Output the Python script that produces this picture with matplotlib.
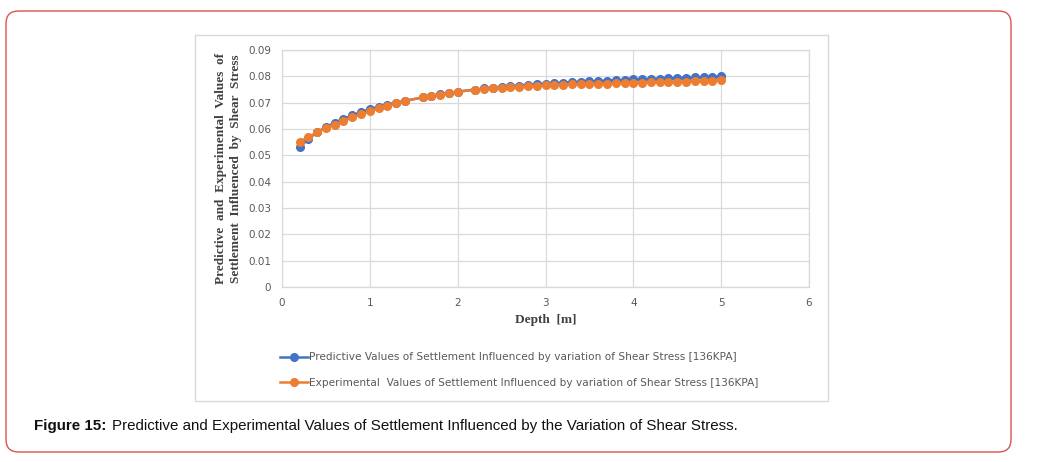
import matplotlib.pyplot as plt
from matplotlib.patches import FancyBboxPatch, Rectangle

# depth [m]
depth = [0.2, 0.3, 0.4, 0.5, 0.6, 0.7, 0.8, 0.9, 1.0, 1.1, 1.2, 1.3, 1.4,
         1.6, 1.7, 1.8, 1.9, 2.0,
         2.2, 2.3, 2.4, 2.5, 2.6, 2.7, 2.8, 2.9, 3.0, 3.1, 3.2, 3.3, 3.4, 3.5,
         3.6, 3.7, 3.8, 3.9, 4.0, 4.1, 4.2, 4.3, 4.4, 4.5, 4.6, 4.7, 4.8, 4.9, 5.0]

predictive = [0.0531, 0.0562, 0.0588, 0.0607, 0.0624, 0.0639, 0.0652, 0.0664, 0.0675,
              0.0684, 0.0693, 0.0700, 0.0707,
              0.0720, 0.0726, 0.0732, 0.0737, 0.0742,
              0.0750, 0.0754, 0.0757, 0.0760, 0.0763, 0.0765, 0.0768, 0.0770, 0.0772,
              0.0774, 0.0776, 0.0778, 0.0779, 0.0781, 0.0782, 0.0784, 0.0785, 0.0786,
              0.0788, 0.0789, 0.0790, 0.0791, 0.0792, 0.0794, 0.0795, 0.0796, 0.0797,
              0.0798, 0.0800]

experimental = [0.0551, 0.0570, 0.0587, 0.0603, 0.0617, 0.0631, 0.0644, 0.0656, 0.0667,
                0.0678, 0.0688, 0.0697, 0.0706,
                0.0720, 0.0726, 0.0731, 0.0736, 0.0741,
                0.0749, 0.0752, 0.0755, 0.0757, 0.0759, 0.0761, 0.0763, 0.0764, 0.0766,
                0.0767, 0.0768, 0.0769, 0.0770, 0.0771, 0.0772, 0.0772, 0.0773, 0.0774,
                0.0775, 0.0776, 0.0777, 0.0777, 0.0778, 0.0779, 0.0780, 0.0781, 0.0782,
                0.0784, 0.0786]

xticks = [0, 1, 2, 3, 4, 5, 6]
yticks = [0, 0.01, 0.02, 0.03, 0.04, 0.05, 0.06, 0.07, 0.08, 0.09]
ytick_labels = ['0', '0.01', '0.02', '0.03', '0.04', '0.05', '0.06', '0.07', '0.08', '0.09']

label_pred = 'Predictive Values of Settlement Influenced by variation of Shear Stress [136KPA]'
label_exp = 'Experimental  Values of Settlement Influenced by variation of Shear Stress [136KPA]'

W, H = 1042, 462
fig = plt.figure(figsize=(W / 100, H / 100), dpi=100)

# outer rounded frame
frame = FancyBboxPatch((6 / W, 10 / H), 1005 / W, 441 / H,
                       boxstyle='round,pad=0,rounding_size=0.012',
                       transform=fig.transFigure, fill=False,
                       edgecolor='#d9534f', linewidth=1.0, mutation_aspect=W / H)
fig.patches.append(frame)

# chart box
box = Rectangle((195 / W, 1 - 401 / H), 633 / W, 366 / H, transform=fig.transFigure,
                fill=False, edgecolor='#d9d9d9', linewidth=1.0)
fig.patches.append(box)

ax = fig.add_axes([282 / W, 1 - 287 / H, 527 / W, 237 / H])
ax.plot(depth, predictive, color='#4472c4', marker='o', markersize=5.5, linewidth=1.8,
        label=label_pred, zorder=3)
ax.plot(depth, experimental, color='#ed7d31', marker='o', markersize=5.5, linewidth=1.8,
        label=label_exp, zorder=4)

ax.set_xlim(0, 6)
ax.set_ylim(0, 0.09)
ax.set_xticks(xticks)
ax.set_yticks(yticks)
ax.set_yticklabels(ytick_labels)
ax.grid(True, color='#d9d9d9', linewidth=0.9)
ax.set_axisbelow(True)
for s in ax.spines.values():
    s.set_color('#d9d9d9')
    s.set_linewidth(0.9)
ax.tick_params(length=0, labelsize=7.5, colors='#595959', pad=8)
for lbl in ax.get_xticklabels() + ax.get_yticklabels():
    lbl.set_family('DejaVu Sans')

ax.set_xlabel('Depth  [m]', family='Liberation Serif', fontweight='bold',
              fontsize=9.5, color='#404040', labelpad=4)
ax.set_ylabel('Predictive  and  Experimental  Values  of\nSettlement  Influenced  by  Shear  Stress',
              family='Liberation Serif', fontweight='bold', fontsize=9.5,
              color='#404040', labelpad=4, linespacing=1.35)

leg = ax.legend(loc='upper left', bbox_to_anchor=(276 / W, 1 - 348 / H),
                bbox_transform=fig.transFigure, frameon=False, handlelength=2.6,
                handletextpad=0.15, labelspacing=1.45, borderaxespad=0,
                prop={'family': 'DejaVu Sans', 'size': 7.6})
for t in leg.get_texts():
    t.set_color('#595959')

fig.text(34 / W, 1 - 426 / H, 'Figure 15:', fontweight='bold', fontsize=10.9,
         family='Liberation Sans', va='center', color='#111111')
fig.text(112 / W, 1 - 426 / H,
         'Predictive and Experimental Values of Settlement Influenced by the Variation of Shear Stress.',
         fontsize=10.9, family='Liberation Sans', va='center', color='#111111')

fig.savefig('out.png', dpi=100)
